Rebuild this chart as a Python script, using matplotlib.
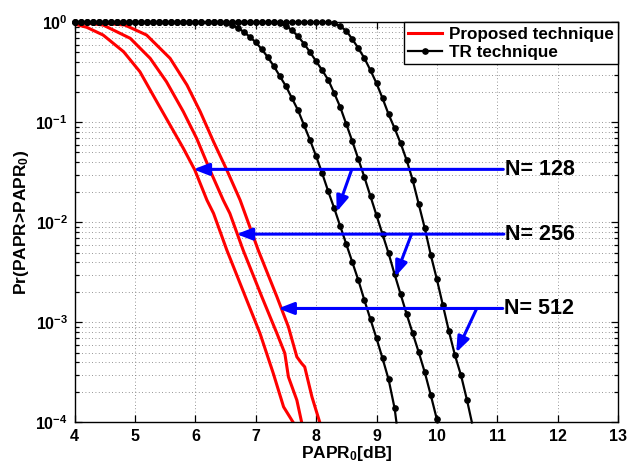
import numpy as np
import matplotlib
matplotlib.use("Agg")
import matplotlib.pyplot as plt
from matplotlib.ticker import LogLocator, NullFormatter

plt.rcParams["font.family"] = "Liberation Sans"
plt.rcParams["font.weight"] = "bold"
plt.rcParams["mathtext.fontset"] = "custom"
plt.rcParams["mathtext.rm"] = "Liberation Sans:bold"
plt.rcParams["mathtext.default"] = "rm"

# Proposed technique: PAPR0 [dB] and log10(CCDF)
prop_x_1 = [4.0, 4.2, 4.47, 4.81, 5.08, 5.36, 5.58, 5.80, 5.99, 6.19, 6.30,
            6.52, 6.85, 7.07, 7.29, 7.46, 7.62]
prop_lg_1 = [-0.018, -0.05, -0.127, -0.294, -0.494, -0.794, -1.027, -1.26,
             -1.477, -1.777, -1.91, -2.277, -2.777, -3.11, -3.51, -3.844, -4.0]
prop_x_2 = [4.0, 4.2, 4.47, 4.92, 5.25, 5.52, 5.80, 6.02, 6.24, 6.46, 6.57,
            6.79, 7.10, 7.35, 7.48, 7.54, 7.68, 7.76]
prop_lg_2 = [-0.002, -0.008, -0.027, -0.16, -0.36, -0.594, -0.894, -1.16,
             -1.477, -1.777, -1.91, -2.277, -2.744, -3.11, -3.307, -3.544,
             -3.777, -4.0]
prop_x_3 = [4.0, 4.4, 4.83, 5.19, 5.58, 5.86, 6.08, 6.30, 6.52, 6.74, 6.82,
            7.04, 7.35, 7.54, 7.68, 7.76, 7.81, 7.93, 8.06]
prop_lg_3 = [0.0, -0.005, -0.027, -0.127, -0.36, -0.627, -0.894, -1.194,
             -1.477, -1.777, -1.91, -2.277, -2.744, -3.044, -3.344, -3.41,
             -3.444, -3.744, -4.0]

# TR technique: markers every 0.1 dB from 4.0 dB, log10(CCDF)
tr_lg_1 = [0.0] * 25 + [-0.01, -0.025, -0.055, -0.095, -0.145, -0.20, -0.27,
                        -0.35, -0.44, -0.54, -0.64, -0.76, -0.88, -1.03, -1.18,
                        -1.34, -1.51, -1.69, -1.86, -2.04, -2.22, -2.40, -2.58,
                        -2.78, -2.97, -3.16, -3.36, -3.57, -3.86]
tr_lg_2 = [0.0] * 34 + [-0.01, -0.035, -0.08, -0.14, -0.215, -0.30, -0.39,
                        -0.48, -0.575, -0.71, -0.85, -1.02, -1.19, -1.37, -1.55,
                        -1.74, -1.93, -2.12, -2.31, -2.52, -2.72, -2.92, -3.11,
                        -3.30, -3.50, -3.73, -3.97]
tr_lg_3 = [0.0] * 43 + [-0.01, -0.04, -0.085, -0.17, -0.26, -0.36, -0.48,
                        -0.61, -0.76, -0.92, -1.06, -1.21, -1.38, -1.58, -1.82,
                        -2.06, -2.33, -2.57, -2.83, -3.09, -3.33, -3.53, -3.78]
# where each TR curve leaves the bottom of the axes
tr_end_x = [9.33, 10.01, 10.58]

labels_n = ["N= 128", "N= 256", "N= 512"]
# horizontal arrow: level, tip on proposed curve; slanted arrow: start, tip on TR curve
arrow_level = [0.0339, 0.00764, 0.00138]
arrow_tip_x = [5.965, 6.68, 7.37]
arrow_right_x = [11.1, 11.11, 11.09]
slant_start_x = [8.59, 9.58, 10.66]
slant_tip = [(8.34, 0.01276), (9.31, 0.002858), (10.32, 0.0005)]

fig = plt.figure(figsize=(6.29, 4.67), dpi=100)
ax = fig.add_axes([0.1188, 0.0953, 0.8637, 0.8569])
ax.set_yscale("log")

for px, pl in [(prop_x_1, prop_lg_1), (prop_x_2, prop_lg_2), (prop_x_3, prop_lg_3)]:
    ax.plot(px, 10.0 ** np.array(pl), color="r", lw=2.2)

for lg, xe in zip([tr_lg_1, tr_lg_2, tr_lg_3], tr_end_x):
    tx = list(np.round(4.0 + 0.1 * np.arange(len(lg)), 2)) + [xe]
    ty = list(10.0 ** np.array(lg)) + [1e-4]
    ax.plot(tx, ty, color="k", lw=1.6, marker="o", ms=3.8,
            markevery=list(range(len(lg))), clip_on=False, zorder=3)

# legend proxies
ax.plot([], [], color="r", lw=2.2, label="Proposed technique")
ax.plot([], [], color="k", lw=1.6, marker="o", ms=3.8, label="TR technique")

blue = (0, 0, 1)
for i in range(3):
    y = arrow_level[i]
    ax.annotate("", xy=(arrow_tip_x[i], y), xytext=(arrow_right_x[i], y),
                arrowprops=dict(arrowstyle="-|>,head_length=0.52,head_width=0.2",
                                mutation_scale=18, color=blue, lw=2.2,
                                shrinkA=0, shrinkB=0), zorder=4)
    ax.annotate("", xy=slant_tip[i], xytext=(slant_start_x[i], y),
                arrowprops=dict(arrowstyle="-|>,head_length=0.52,head_width=0.2",
                                mutation_scale=18, color=blue, lw=2.2,
                                shrinkA=0, shrinkB=0), zorder=4)
    ax.text(arrow_right_x[i] + 0.02, y, labels_n[i], fontsize=15.5,
            fontweight="bold", ha="left", va="center")

ax.set_xlim(4, 13)
ax.set_ylim(1e-4, 1)
ax.set_xticks(range(4, 14))
ax.yaxis.set_major_locator(LogLocator(base=10, numticks=10))
ax.yaxis.set_minor_locator(LogLocator(base=10, subs=np.arange(2, 10), numticks=10))
ax.yaxis.set_minor_formatter(NullFormatter())

grid_style = dict(ls=(0, (1, 3)), color="0.45", lw=0.6)
ax.grid(True, which="major", **grid_style)
ax.yaxis.grid(True, which="minor", **grid_style)
ax.tick_params(which="both", direction="in", top=True, right=True,
               labelsize=11.5, width=0.9)
ax.tick_params(which="major", length=5, pad=5)
ax.tick_params(which="minor", length=3)
for s in ax.spines.values():
    s.set_linewidth(1.0)

ax.set_xlabel(r"PAPR$_0$[dB]", fontsize=12.5, fontweight="bold", labelpad=0)
ax.set_ylabel(r"Pr(PAPR>PAPR$_0$)", fontsize=12.5, fontweight="bold", labelpad=3)

leg = ax.legend(loc="upper right", fontsize=12.3, frameon=True, fancybox=False,
                edgecolor="k", framealpha=1, borderaxespad=0, handlelength=2.0,
                numpoints=1, labelspacing=0.2, borderpad=0.25, handletextpad=0.4)
leg.get_frame().set_linewidth(1.0)
for t in leg.get_texts():
    t.set_fontweight("bold")

fig.savefig("out.png", dpi=100)
